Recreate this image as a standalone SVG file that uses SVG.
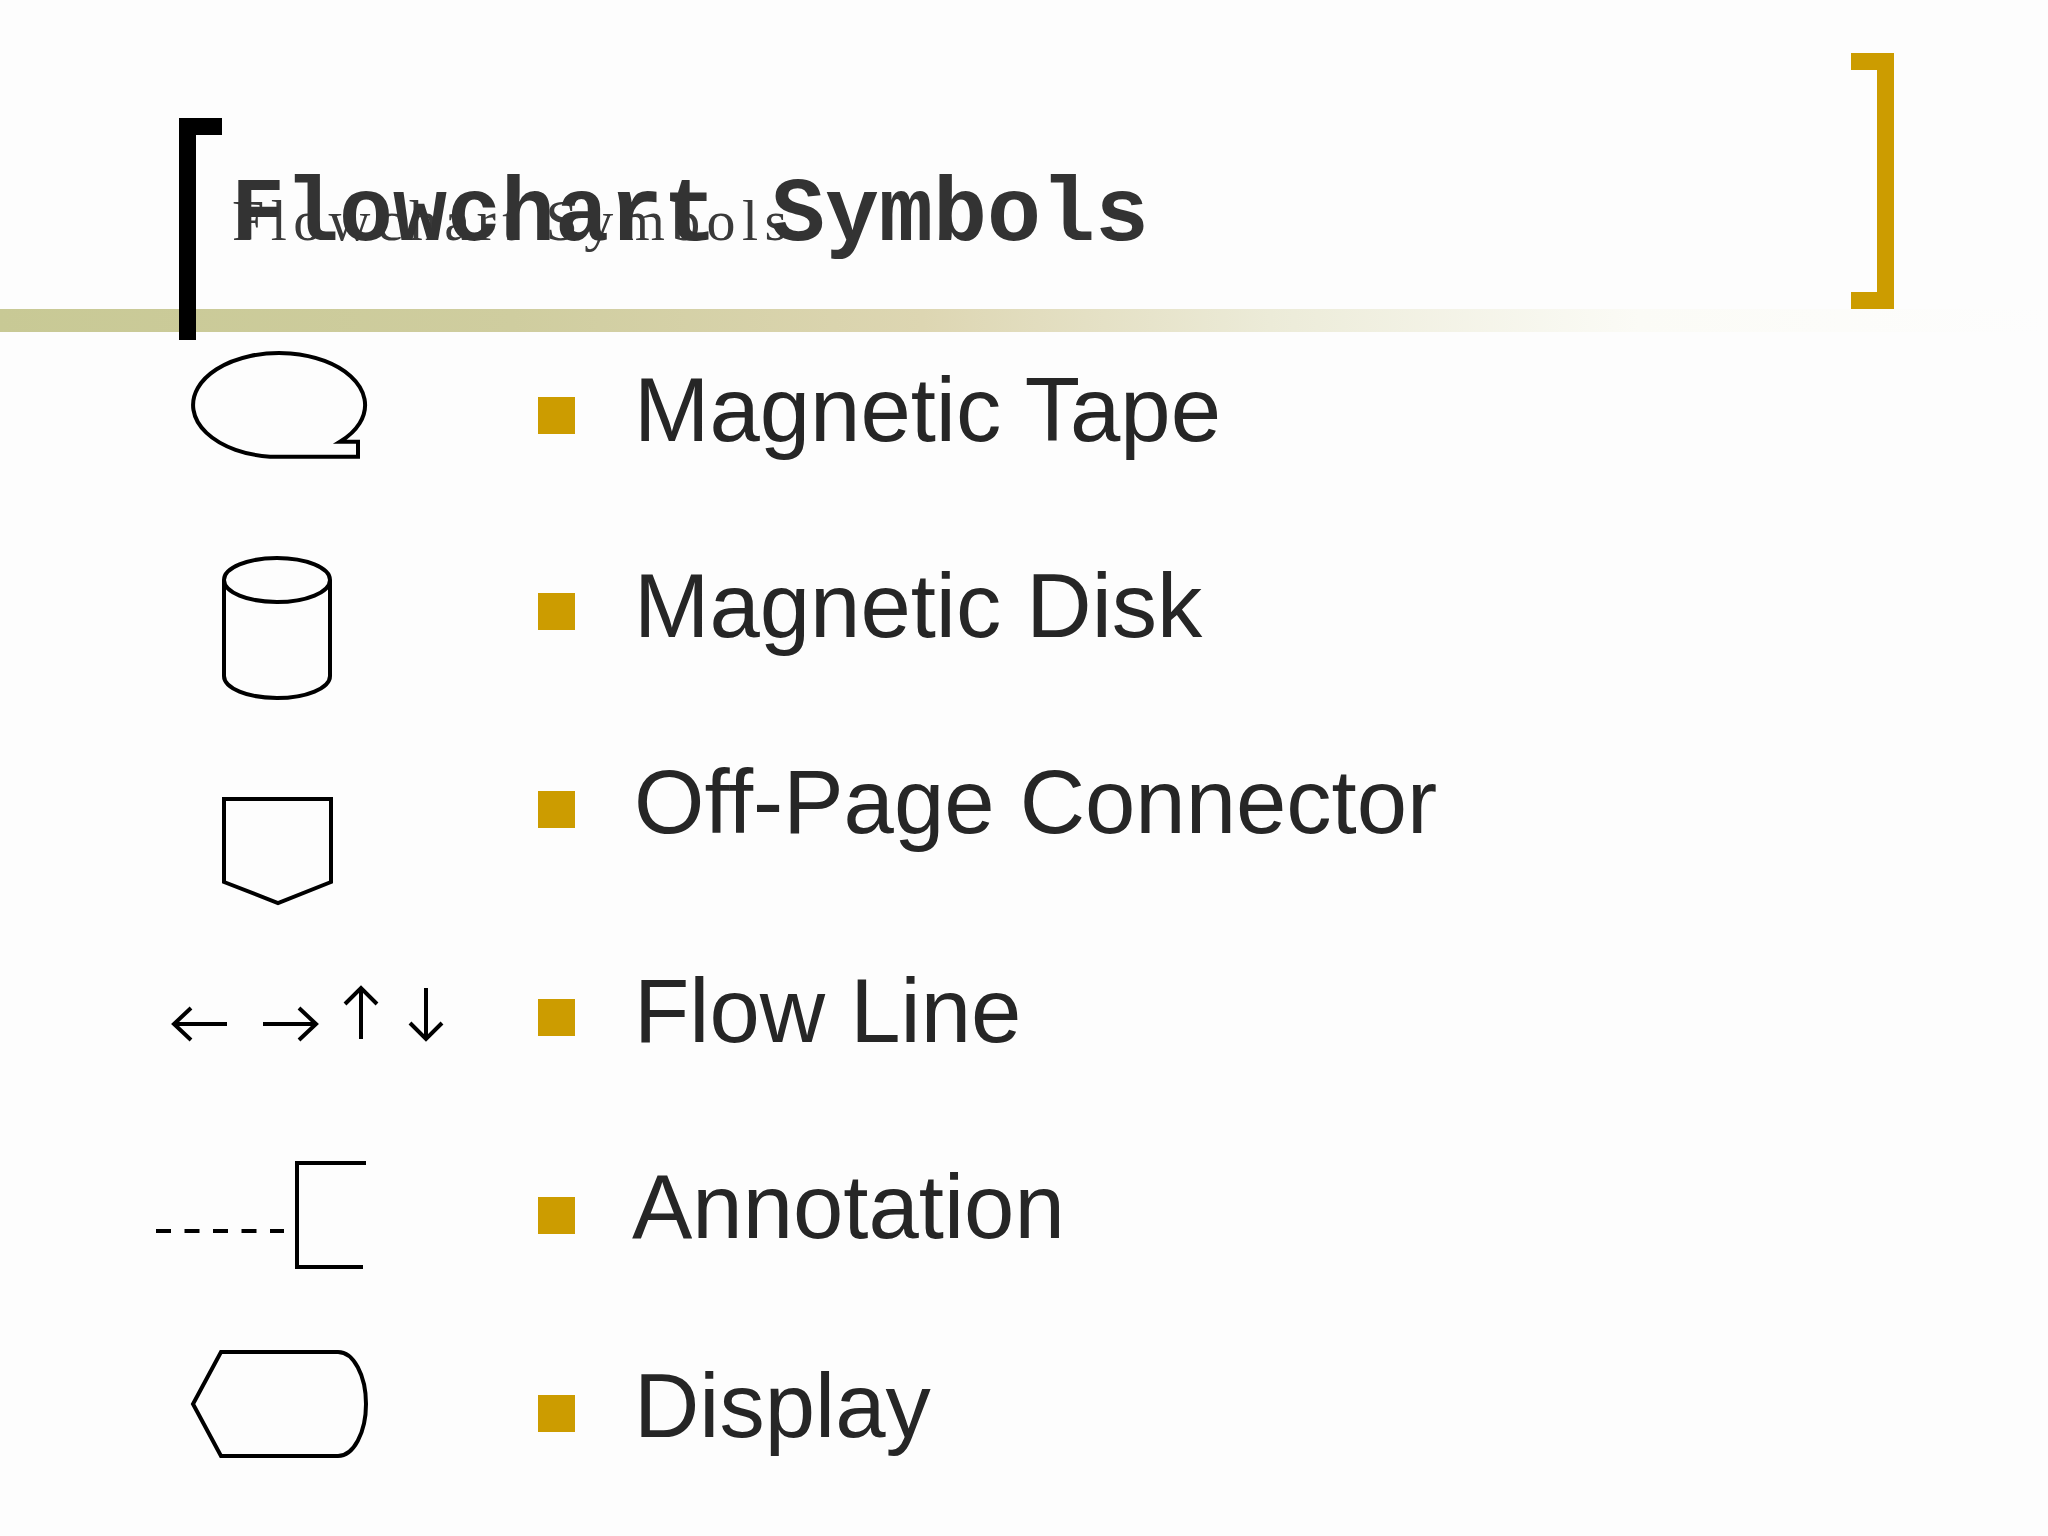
<svg xmlns="http://www.w3.org/2000/svg" width="2048" height="1536" viewBox="0 0 2048 1536">
<defs>
<linearGradient id="band" x1="0" y1="0" x2="1" y2="0">
<stop offset="0" stop-color="#c8c995"/>
<stop offset="0.25" stop-color="#cfcd9f"/>
<stop offset="0.45" stop-color="#ddd6b2"/>
<stop offset="0.62" stop-color="#ecebd8"/>
<stop offset="0.8" stop-color="#fbfbf6"/>
<stop offset="1" stop-color="#fdfdfd"/>
</linearGradient>
<style>
.sym{fill:none;stroke:#000;stroke-width:4;stroke-linejoin:miter}
.bul{fill:#cc9c00}
.lbl{font-family:"Liberation Sans",Arial,sans-serif;font-size:90.5px;fill:#262626}
</style>
</defs>
<rect width="2048" height="1536" fill="#fdfdfd"/>
<g id="header">
<rect x="0" y="309" width="2048" height="23" fill="url(#band)"/>
<path d="M179,118 H222 V135 H196 V340 H179 Z" fill="#000"/>
<path d="M1851,53 H1894 V309 H1851 V292 H1877 V70 H1851 Z" fill="#cc9c00"/>
<text x="232" y="240" font-family="'Liberation Serif','Times New Roman',serif" font-size="58" fill="#3a3a3a" textLength="555" lengthAdjust="spacing">Flowchart Symbols</text>
<text x="231" y="240" font-family="'Liberation Mono','Courier New',monospace" font-weight="bold" font-size="90.5" fill="#333" textLength="918" lengthAdjust="spacingAndGlyphs">Flowchart Symbols</text>
</g>
<g id="magnetic-tape">
<path class="sym" d="M340,441.7 A86 52 0 1 0 270,456.7 L358,456.7 L358,441.7 Z"/>
<rect class="bul" x="538" y="397" width="37" height="37"/>
<text class="lbl" x="634" y="441">Magnetic Tape</text>
</g>
<g id="magnetic-disk">
<path class="sym" d="M224,580 A53 22 0 0 1 330,580 A53 22 0 0 1 224,580 V676 A53 22 0 0 0 330,676 V580"/>
<rect class="bul" x="538" y="593" width="37" height="37"/>
<text class="lbl" x="634" y="637">Magnetic Disk</text>
</g>
<g id="off-page-connector">
<path class="sym" d="M224,799 H331 V882 L278,903 L224,882 Z"/>
<rect class="bul" x="538" y="791" width="37" height="37"/>
<text class="lbl" x="634" y="833">Off-Page Connector</text>
</g>
<g id="flow-line">
<path class="sym" d="M174,1024 H227 M191,1008 L174,1024 L191,1040"/>
<path class="sym" d="M263,1024 H316 M299,1008 L316,1024 L299,1040"/>
<path class="sym" d="M361,988 V1039 M345,1004 L361,988 L377,1004"/>
<path class="sym" d="M426,988 V1039 M410,1023 L426,1039 L442,1023"/>
<rect class="bul" x="538" y="999" width="37" height="37"/>
<text class="lbl" x="634" y="1042">Flow Line</text>
</g>
<g id="annotation">
<path class="sym" d="M156,1231 H284" stroke-dasharray="15 13.5"/>
<path class="sym" d="M366,1163 H297 V1267 H363"/>
<rect class="bul" x="538" y="1197" width="37" height="37"/>
<text class="lbl" x="632" y="1238">Annotation</text>
</g>
<g id="display">
<path class="sym" d="M221,1352 H338 A28 52 0 0 1 338,1456 H221 L193,1404 Z"/>
<rect class="bul" x="538" y="1395" width="37" height="37"/>
<text class="lbl" x="634" y="1437">Display</text>
</g>
<g id="connectors"/>
</svg>
